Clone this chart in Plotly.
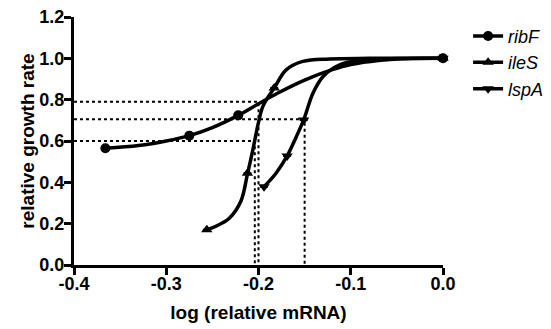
import plotly.graph_objects as go

# ---- data points ----
ribF_x = [-0.366, -0.275, -0.222, 0.0]
ribF_y = [0.565, 0.626, 0.724, 1.0]
ileS_x = [-0.256, -0.212, -0.183, 0.0]
ileS_y = [0.170, 0.444, 0.856, 1.0]
lspA_x = [-0.194, -0.169, -0.151, 0.0]
lspA_y = [0.379, 0.528, 0.702, 1.0]
end_err = [0, 0, 0, 0.012]

# ---- fitted curves ----
ribF_fit_x = [-0.366, -0.33, -0.30, -0.275, -0.25, -0.222, -0.20, -0.18, -0.15, -0.12, -0.10, -0.07, -0.04, 0.0]
ribF_fit_y = [0.565, 0.578, 0.600, 0.626, 0.665, 0.724, 0.780, 0.830, 0.895, 0.945, 0.970, 0.990, 0.998, 1.0]
ileS_fit_x = [-0.256, -0.245, -0.232, -0.219, -0.212, -0.206, -0.200, -0.195, -0.183, -0.170, -0.152, -0.123, -0.08, 0.0]
ileS_fit_y = [0.170, 0.190, 0.225, 0.310, 0.440, 0.560, 0.690, 0.770, 0.856, 0.944, 0.985, 0.997, 1.0, 1.0]
lspA_fit_x = [-0.194, -0.181, -0.169, -0.159, -0.151, -0.141, -0.130, -0.112, -0.090, -0.06, 0.0]
lspA_fit_y = [0.379, 0.444, 0.528, 0.621, 0.702, 0.831, 0.912, 0.969, 0.990, 0.998, 1.0]

# ---- dotted guide lines ----
guide_levels = [0.79, 0.705, 0.60]
guide_x = [-0.200, -0.150, -0.204]
x_min = -0.4

names = ["<i>ribF</i>", "<i>ileS</i>", "<i>lspA</i>"]
symbols = ["circle", "triangle-up", "triangle-down"]

fig = go.Figure()

for gx, gy in zip(guide_x, guide_levels):
    fig.add_trace(go.Scatter(x=[x_min, gx, gx], y=[gy, gy, 0], mode="lines",
                             line=dict(color="black", width=2, dash="dot"),
                             showlegend=False, hoverinfo="skip"))

sets = [(ribF_fit_x, ribF_fit_y, ribF_x, ribF_y),
        (ileS_fit_x, ileS_fit_y, ileS_x, ileS_y),
        (lspA_fit_x, lspA_fit_y, lspA_x, lspA_y)]

for (fx, fy, px, py), nm, sym in zip(sets, names, symbols):
    fig.add_trace(go.Scatter(x=fx, y=fy, mode="lines", line=dict(color="black", width=3.5, shape="spline", smoothing=1.0),
                             showlegend=False, hoverinfo="skip", cliponaxis=False))
    fig.add_trace(go.Scatter(x=px, y=py, mode="markers",
                             marker=dict(symbol=sym, size=10, color="black"),
                             error_y=dict(type="data", array=end_err, color="black", thickness=2, width=4),
                             showlegend=False, cliponaxis=False))
    fig.add_trace(go.Scatter(x=[None], y=[None], mode="lines+markers", name=nm,
                             line=dict(color="black", width=3.5),
                             marker=dict(symbol=sym, size=10, color="black")))

FONT = "Liberation Sans, Arial, sans-serif"
axis_font = dict(family=FONT, size=18, color="black", weight="bold")
title_font = dict(family=FONT, size=19, color="black", weight="bold")

fig.update_layout(
    width=551, height=329,
    margin=dict(l=74, r=108, t=17, b=64, autoexpand=False),
    plot_bgcolor="white", paper_bgcolor="white",
    font=dict(family=FONT, color="black"),
    legend=dict(x=1.068, y=0.997, xanchor="left", yanchor="top",
                font=dict(size=18, family=FONT, color="black"),
                itemwidth=30, tracegroupgap=0, bgcolor="rgba(0,0,0,0)"),
    xaxis=dict(range=[-0.4, 0.0], tickvals=[-0.4, -0.3, -0.2, -0.1, 0.0],
               ticktext=["-0.4", "-0.3", "-0.2", "-0.1", "0.0"], automargin=False,
               showgrid=False, zeroline=False, showline=True, linecolor="black", linewidth=3,
               ticks="outside", ticklen=7, tickwidth=3, tickcolor="black", tickfont=axis_font,
               ticklabelstandoff=-7,
               title=dict(text="log (relative mRNA)", font=title_font, standoff=14)),
    yaxis=dict(range=[0.0, 1.2], tickvals=[0, 0.2, 0.4, 0.6, 0.8, 1.0, 1.2],
               ticktext=["0.0", "0.2", "0.4", "0.6", "0.8", "1.0", "1.2"], automargin=False,
               showgrid=False, zeroline=False, showline=True, linecolor="black", linewidth=3,
               ticks="outside", ticklen=7, tickwidth=3, tickcolor="black", tickfont=axis_font,
               ticklabelstandoff=-4,
               title=dict(text="relative growth rate", font=title_font, standoff=0)),
)

fig.write_html("out.html", config={"displayModeBar": False},
               post_script="document.body.style.margin='0';document.body.style.overflow='hidden';")
